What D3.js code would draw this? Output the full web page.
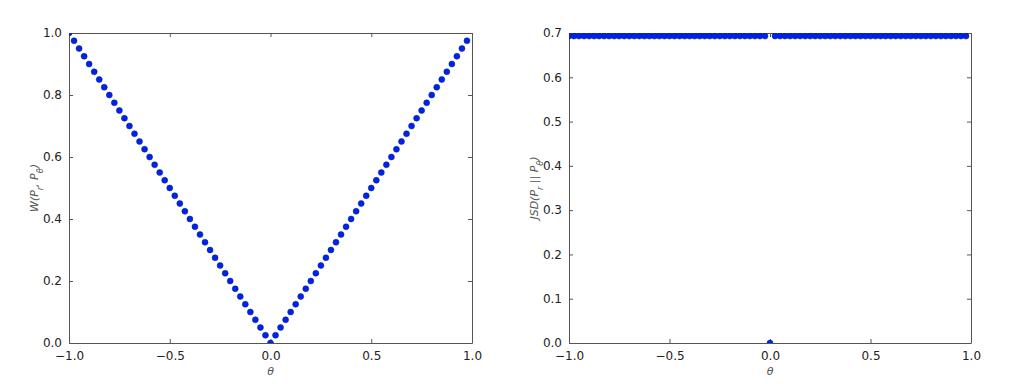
<!DOCTYPE html>
<meta charset="utf-8">
<style>
  body { margin: 0; background: #fff; }
  text { font-family: "DejaVu Sans", sans-serif; fill: #222; }
  .axis path, .axis line { stroke: #555; }
  .lbl { font-style: italic; fill: #555; font-size: 11px; }
</style>
<body>
<script src="https://d3js.org/d3.v7.min.js"></script>
<script>
// theta values (sampled every 0.025 on [-1, 1))
var theta = [-1, -0.975, -0.95, -0.925, -0.9, -0.875, -0.85, -0.825, -0.8, -0.775,
  -0.75, -0.725, -0.7, -0.675, -0.65, -0.625, -0.6, -0.575, -0.55, -0.525,
  -0.5, -0.475, -0.45, -0.425, -0.4, -0.375, -0.35, -0.325, -0.3, -0.275,
  -0.25, -0.225, -0.2, -0.175, -0.15, -0.125, -0.1, -0.075, -0.05, -0.025,
  0, 0.025, 0.05, 0.075, 0.1, 0.125, 0.15, 0.175, 0.2, 0.225,
  0.25, 0.275, 0.3, 0.325, 0.35, 0.375, 0.4, 0.425, 0.45, 0.475,
  0.5, 0.525, 0.55, 0.575, 0.6, 0.625, 0.65, 0.675, 0.7, 0.725,
  0.75, 0.775, 0.8, 0.825, 0.85, 0.875, 0.9, 0.925, 0.95, 0.975];

// Wasserstein distance
var wDist = [1, 0.975, 0.95, 0.925, 0.9, 0.875, 0.85, 0.825, 0.8, 0.775,
  0.75, 0.725, 0.7, 0.675, 0.65, 0.625, 0.6, 0.575, 0.55, 0.525,
  0.5, 0.475, 0.45, 0.425, 0.4, 0.375, 0.35, 0.325, 0.3, 0.275,
  0.25, 0.225, 0.2, 0.175, 0.15, 0.125, 0.1, 0.075, 0.05, 0.025,
  0, 0.025, 0.05, 0.075, 0.1, 0.125, 0.15, 0.175, 0.2, 0.225,
  0.25, 0.275, 0.3, 0.325, 0.35, 0.375, 0.4, 0.425, 0.45, 0.475,
  0.5, 0.525, 0.55, 0.575, 0.6, 0.625, 0.65, 0.675, 0.7, 0.725,
  0.75, 0.775, 0.8, 0.825, 0.85, 0.875, 0.9, 0.925, 0.95, 0.975];

// Jensen-Shannon divergence
var jsd = [0.693, 0.693, 0.693, 0.693, 0.693, 0.693, 0.693, 0.693, 0.693, 0.693,
  0.693, 0.693, 0.693, 0.693, 0.693, 0.693, 0.693, 0.693, 0.693, 0.693,
  0.693, 0.693, 0.693, 0.693, 0.693, 0.693, 0.693, 0.693, 0.693, 0.693,
  0.693, 0.693, 0.693, 0.693, 0.693, 0.693, 0.693, 0.693, 0.693, 0.693,
  0, 0.693, 0.693, 0.693, 0.693, 0.693, 0.693, 0.693, 0.693, 0.693,
  0.693, 0.693, 0.693, 0.693, 0.693, 0.693, 0.693, 0.693, 0.693, 0.693,
  0.693, 0.693, 0.693, 0.693, 0.693, 0.693, 0.693, 0.693, 0.693, 0.693,
  0.693, 0.693, 0.693, 0.693, 0.693, 0.693, 0.693, 0.693, 0.693, 0.693];

var xTicks = [-1.0, -0.5, 0.0, 0.5, 1.0];
var wTicks = [0.0, 0.2, 0.4, 0.6, 0.8, 1.0];
var jsdTicks = [0.0, 0.1, 0.2, 0.3, 0.4, 0.5, 0.6, 0.7];

var svg = d3.select("body").append("svg")
    .attr("width", 1024)
    .attr("height", 384);

function panel(id, left, right, top, bottom, yMax, yTicks, yvals, ylabel, labelX) {
  var x = d3.scaleLinear().domain([-1, 1]).range([left, right]);
  var y = d3.scaleLinear().domain([0, yMax]).range([bottom, top]);

  svg.append("clipPath").attr("id", id)
    .append("rect")
    .attr("x", left).attr("y", top)
    .attr("width", right - left).attr("height", bottom - top);

  var fmt = d3.format(".1f");
  var fmtX = function(d) { return fmt(d).replace("-", "\u2212"); };

  // bottom / left axes with labels, inward ticks
  svg.append("g").attr("class", "axis")
    .attr("transform", "translate(0," + bottom + ")")
    .call(d3.axisBottom(x).tickValues(xTicks).tickFormat(fmtX).tickSizeInner(-4).tickSizeOuter(0).tickPadding(8))
    .call(function(g) { g.selectAll("text").style("font-size", "12px"); });
  svg.append("g").attr("class", "axis")
    .attr("transform", "translate(" + left + ",0)")
    .call(d3.axisLeft(y).tickValues(yTicks).tickFormat(fmt).tickSizeInner(-4).tickSizeOuter(0).tickPadding(7))
    .call(function(g) { g.selectAll("text").style("font-size", "12px"); });
  // top / right ticks
  svg.append("g").attr("class", "axis")
    .attr("transform", "translate(0," + top + ")")
    .call(d3.axisTop(x).tickValues(xTicks).tickFormat("").tickSizeInner(-4).tickSizeOuter(0));
  svg.append("g").attr("class", "axis")
    .attr("transform", "translate(" + right + ",0)")
    .call(d3.axisRight(y).tickValues(yTicks).tickFormat("").tickSizeInner(-4).tickSizeOuter(0));

  svg.append("g").attr("clip-path", "url(#" + id + ")")
    .selectAll("circle")
    .data(theta)
    .enter()
    .append("circle")
    .attr("cx", function(d) { return x(d); })
    .attr("cy", function(d, i) { return y(yvals[i]); })
    .attr("r", 3)
    .attr("fill", "#0022ee")
    .attr("stroke", "#001a80")
    .attr("stroke-width", 0.5);

  // x label
  svg.append("text").attr("class", "lbl")
    .attr("x", (left + right) / 2).attr("y", 375)
    .attr("text-anchor", "middle")
    .text("\u03b8");

  // y label
  var t = svg.append("text").attr("class", "lbl")
    .attr("transform", "translate(" + labelX + "," + ((top + bottom) / 2) + ") rotate(-90)")
    .attr("text-anchor", "middle");
  ylabel.forEach(function(p) {
    var s = t.append("tspan").text(p[0]);
    if (p[1]) s.attr("baseline-shift", "sub").style("font-size", "8px");
  });
}

panel("clipL", 69, 472, 33, 343, 1.0, wTicks, wDist,
  [["W(P"], ["r", 1], [", P"], ["\u03b8", 1], [")"]], 38);
panel("clipR", 569, 971, 33, 343, 0.7, jsdTicks, jsd,
  [["JSD(P"], ["r", 1], [" || P"], ["\u03b8", 1], [")"]], 538);
</script>
</body>
</html>
